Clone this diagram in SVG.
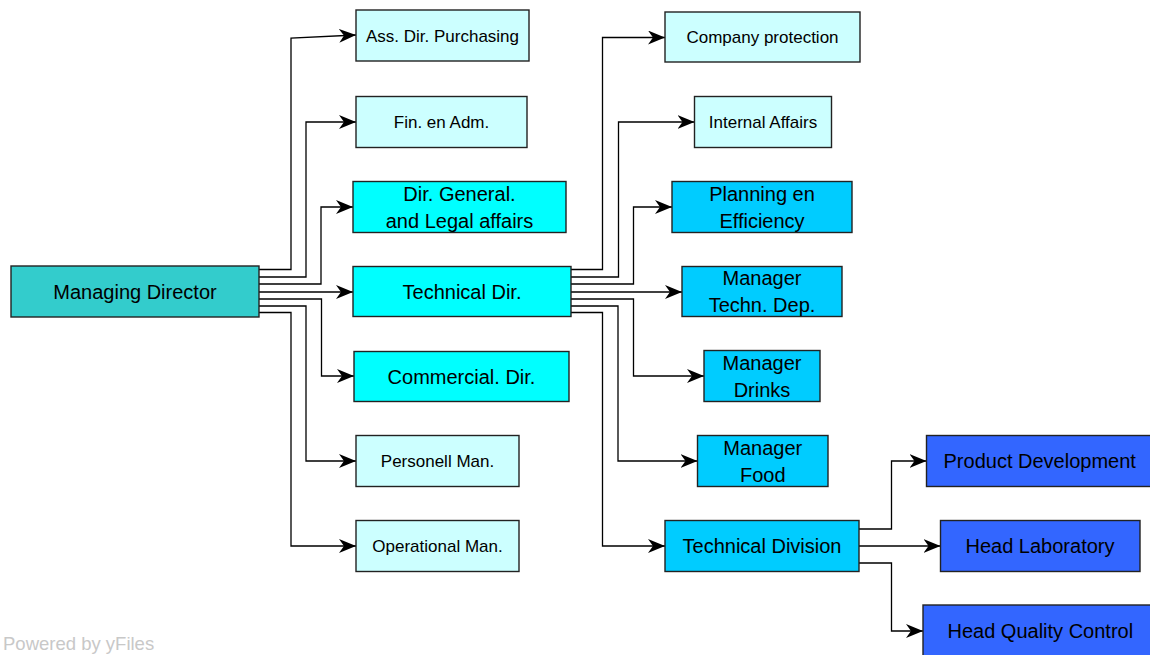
<svg xmlns="http://www.w3.org/2000/svg" width="1150" height="655" viewBox="0 0 1150 655">
<style>
.box{stroke:#222;stroke-width:1.4}
.c0{fill:#33CCCC}.c1{fill:#CCFFFF}.c2{fill:#00FFFF}.c3{fill:#00CCFF}.c4{fill:#3366FF}
text{font-family:"Liberation Sans",Arial,sans-serif;fill:#000;text-anchor:middle}
.s{font-size:17px}.b{font-size:20px}
.e{fill:none;stroke:#000;stroke-width:1.3}
.wm{font-size:18.5px;fill:#c8c8c8;text-anchor:start}
</style>
<defs>
<marker id="arr" markerUnits="userSpaceOnUse" viewBox="0 0 17 14" refX="17" refY="7" markerWidth="17" markerHeight="14" orient="auto">
<path d="M0,0 L17,7 L0,14 L5,7 Z" fill="#000"/>
</marker>
</defs>
<rect width="1150" height="655" fill="#fff"/>
<g id="connectors" class="conn">
<path class="e" marker-end="url(#arr)" d="M259,269.5 H291 V38 L356,35"/>
<path class="e" marker-end="url(#arr)" d="M259,277 H306 V122 H356"/>
<path class="e" marker-end="url(#arr)" d="M259,284 H321 V207 H353"/>
<path class="e" marker-end="url(#arr)" d="M259,292 H353"/>
<path class="e" marker-end="url(#arr)" d="M259,299 H321.5 V376 H354"/>
<path class="e" marker-end="url(#arr)" d="M259,306 H306 V461 H356"/>
<path class="e" marker-end="url(#arr)" d="M259,312.5 H291 V546 H356"/>
<path class="e" marker-end="url(#arr)" d="M571,269.5 H602.5 V37.5 H665"/>
<path class="e" marker-end="url(#arr)" d="M571,277 H618.5 V122 H694.5"/>
<path class="e" marker-end="url(#arr)" d="M571,284 H633.5 V207 H672"/>
<path class="e" marker-end="url(#arr)" d="M571,292 H682"/>
<path class="e" marker-end="url(#arr)" d="M571,299 H633.5 V376 H704"/>
<path class="e" marker-end="url(#arr)" d="M571,306 H618 V461 H697.5"/>
<path class="e" marker-end="url(#arr)" d="M571,312.5 H602.5 V546 H665"/>
<path class="e" marker-end="url(#arr)" d="M859,529 H891.5 V461 H926.5"/>
<path class="e" marker-end="url(#arr)" d="M859,546 H940.5"/>
<path class="e" marker-end="url(#arr)" d="M859,563 H891.5 V631 H923"/>
</g>
<g id="managing-director"><rect class="box c0" x="11" y="266" width="248" height="51"/><text class="b" x="135" y="298.7">Managing Director</text></g>
<g id="ass-dir-purchasing"><rect class="box c1" x="356" y="10" width="173" height="51"/><text class="s" x="442.5" y="41.6">Ass. Dir. Purchasing</text></g>
<g id="fin-en-adm"><rect class="box c1" x="356" y="96.5" width="171" height="51"/><text class="s" x="441.5" y="128.1">Fin. en Adm.</text></g>
<g id="dir-general"><rect class="box c2" x="353" y="181.5" width="213" height="51"/><text class="b" x="459.5" y="200.5">Dir. General.</text><text class="b" x="459.5" y="227.5">and Legal affairs</text></g>
<g id="technical-dir"><rect class="box c2" x="353" y="266.5" width="218" height="50"/><text class="b" x="462" y="298.7">Technical Dir.</text></g>
<g id="commercial-dir"><rect class="box c2" x="354" y="351.5" width="215" height="50"/><text class="b" x="461.5" y="383.7">Commercial. Dir.</text></g>
<g id="personell-man"><rect class="box c1" x="356" y="435.5" width="163" height="51"/><text class="s" x="437.5" y="467.1">Personell Man.</text></g>
<g id="operational-man"><rect class="box c1" x="356" y="520.5" width="163" height="51"/><text class="s" x="437.5" y="552.1">Operational Man.</text></g>
<g id="company-protection"><rect class="box c1" x="665" y="12" width="195" height="50"/><text class="s" x="762.5" y="43.1">Company protection</text></g>
<g id="internal-affairs"><rect class="box c1" x="694.5" y="96.5" width="137" height="51"/><text class="s" x="763" y="128.1">Internal Affairs</text></g>
<g id="planning-en-efficiency"><rect class="box c3" x="672" y="181.5" width="180" height="51"/><text class="b" x="762" y="200.5">Planning en</text><text class="b" x="762" y="227.5">Efficiency</text></g>
<g id="manager-techn-dep"><rect class="box c3" x="682" y="266.5" width="160" height="50"/><text class="b" x="762" y="285">Manager</text><text class="b" x="762" y="312">Techn. Dep.</text></g>
<g id="manager-drinks"><rect class="box c3" x="704" y="350.5" width="116" height="51"/><text class="b" x="762" y="369.5">Manager</text><text class="b" x="762" y="396.5">Drinks</text></g>
<g id="manager-food"><rect class="box c3" x="697.5" y="435.5" width="130.5" height="51"/><text class="b" x="762.75" y="454.5">Manager</text><text class="b" x="762.75" y="481.5">Food</text></g>
<g id="technical-division"><rect class="box c3" x="665" y="520.5" width="194" height="51"/><text class="b" x="762" y="553.2">Technical Division</text></g>
<g id="product-development"><rect class="box c4" x="926.5" y="435.5" width="226.5" height="51"/><text class="b" x="1039.7" y="468.2">Product Development</text></g>
<g id="head-laboratory"><rect class="box c4" x="940.5" y="520.5" width="199.5" height="51"/><text class="b" x="1040" y="553.2">Head Laboratory</text></g>
<g id="head-quality-control"><rect class="box c4" x="923" y="605" width="235" height="51"/><text class="b" x="1040.3" y="637.7">Head Quality Control</text></g>
<text class="wm" x="3" y="650">Powered by yFiles</text>
</svg>
